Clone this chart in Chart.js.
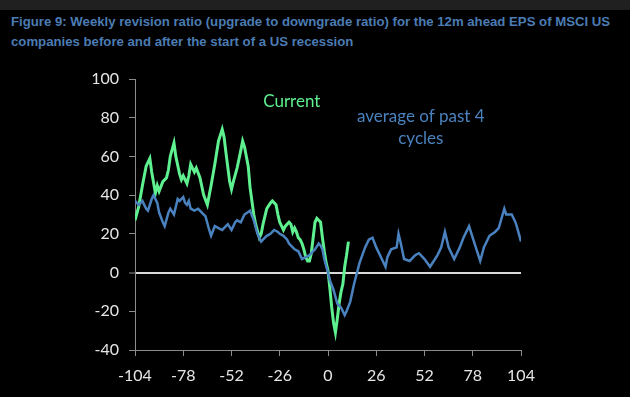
<!DOCTYPE html>
<html>
<head>
<meta charset="utf-8">
<script src="https://cdn.jsdelivr.net/npm/chart.js@4/dist/chart.umd.min.js"></script>
<style>
  html, body { margin: 0; padding: 0; background: #000; }
  body { width: 630px; height: 397px; position: relative; overflow: hidden; }
  .topbar { position: absolute; left: 0; top: 0; width: 630px; height: 10px; background: #202020; }
  .title {
    position: absolute; left: 11px; top: 12px;
    font: bold 13.2px "Liberation Sans", Arial, sans-serif;
    line-height: 20px; color: #4b7cb3; white-space: nowrap;
  }
  #wrap { position: absolute; left: 0; top: 0; width: 630px; height: 397px; }
</style>
</head>
<body>
<div class="topbar"></div>
<div class="title">Figure 9: Weekly revision ratio (upgrade to downgrade ratio) for the 12m ahead EPS of MSCI US<br>companies before and after the start of a US recession</div>
<div id="wrap"><canvas id="chart" width="630" height="397"></canvas></div>
<script>
// weeks relative to the start of a US recession
const currentWeeks = [-104, -102, -100, -98, -96, -95, -93, -92, -91, -89, -87, -86, -85, -83, -82, -80, -79, -78, -76, -75, -74, -73, -72, -71, -69, -67, -65, -64, -63, -61, -59, -57, -56, -55, -53, -52, -51, -49, -47, -46, -45, -43, -42, -40, -39, -37, -36, -35, -33, -31, -30, -28, -27, -26, -25, -24, -23, -21, -20, -19, -18, -17, -16, -15, -14, -13, -12, -11, -10, -9, -8, -7, -6, -5, -4, -3, -2, -1, 0, 1, 2, 3, 4, 5, 6, 7, 8, 9, 10, 11];
const currentValues = [27, 34, 45, 55, 59, 52, 41, 45, 42, 47, 49, 53, 60, 67, 60, 51, 48, 50, 46, 50, 56, 54, 52, 54, 49, 40, 35, 40, 45, 56, 68, 74, 70, 62, 47, 43, 47, 54, 63, 68, 65, 55, 44, 30, 25, 18, 20, 25, 33, 36, 37, 35, 30, 26, 24, 22, 24, 26, 25, 21, 23, 21, 18, 17, 15, 12, 8, 6, 6, 10, 18, 26, 28, 27, 26, 18, 11, 5, 1, -8, -18, -26, -31, -24, -16, -10, -6, 3, 9, 16];

const averageWeeks = [-104, -102, -100, -98, -97, -95, -94, -92, -91, -89, -88, -86, -85, -83, -81, -80, -78, -77, -76, -75, -74, -72, -70, -68, -66, -64, -63, -61, -59, -57, -55, -54, -52, -50, -49, -47, -45, -42, -40, -38, -36, -34, -33, -31, -30, -29, -27, -26, -24, -22, -21, -19, -18, -16, -15, -14, -12, -10, -7, -5, -4, -3, -2, 0, 1, 3, 5, 7, 9, 10, 12, 14, 17, 20, 22, 24, 26, 29, 31, 32, 34, 37, 38, 39, 41, 44, 47, 49, 52, 55, 57, 59, 61, 63, 65, 68, 71, 73, 76, 79, 82, 84, 87, 90, 92, 95, 96, 99, 101, 102, 104];
const averageValues = [37, 35, 37, 33, 32, 38, 40, 36, 31, 26, 24, 31, 33, 30, 38, 37, 39, 36, 35, 37, 33, 32, 33, 31, 29, 22, 19, 24, 23, 22, 24, 25, 22, 26, 27, 26, 30, 32, 27, 20, 16, 18, 19, 20, 21, 22, 21, 20, 19, 17, 15, 13, 12, 11, 9, 7, 8, 9, 12, 15, 14, 12, 7, 0, -4, -9, -16, -18, -22, -20, -15, -6, 5, 13, 17, 18, 13, 7, 3, 8, 12, 13, 20, 16, 7, 6, 9, 10, 7, 3, 6, 9, 13, 21, 13, 7, 13, 18, 24, 15, 6, 13, 19, 21, 23, 33, 30, 30, 26, 23, 16];

const xTicks = [-104, -78, -52, -26, 0, 26, 52, 78, 104];
const yTicks = [-40, -20, 0, 20, 40, 60, 80, 100];

const labels = [
  { text: "Current", x: -19.5, y: 88.5, color: "#5ff08f" },
  { text: "average of past 4", x: 50, y: 80.5, color: "#4a82bf" },
  { text: "cycles", x: 50, y: 69.5, color: "#4a82bf" }
];

const toPoints = (weeks, values) => weeks.map((w, i) => ({ x: w, y: values[i] }));

const textFont = { family: "Lato, 'Open Sans', sans-serif", size: 16 };

// writes the two line labels inside the plot
const seriesLabels = {
  id: "seriesLabels",
  afterDatasetsDraw(chart) {
    const { ctx, scales } = chart;
    ctx.save();
    ctx.font = "17px Lato, 'Open Sans', sans-serif";
    ctx.textAlign = "center";
    ctx.textBaseline = "middle";
    labels.forEach(l => {
      ctx.fillStyle = l.color;
      ctx.fillText(l.text, scales.x.getPixelForValue(l.x), scales.y.getPixelForValue(l.y));
    });
    ctx.restore();
  }
};

new Chart(document.getElementById("chart"), {
  type: "line",
  data: {
    datasets: [
      {
        label: "average of past 4 cycles",
        data: toPoints(averageWeeks, averageValues),
        borderColor: "#4a82bf",
        borderWidth: 2.5,
        pointRadius: 0,
        tension: 0
      },
      {
        label: "Current",
        data: toPoints(currentWeeks, currentValues),
        borderColor: "#5ff08f",
        borderWidth: 3,
        pointRadius: 0,
        tension: 0
      }
    ]
  },
  options: {
    responsive: false,
    animation: false,
    layout: { padding: { left: 0, right: 109, top: 79, bottom: 0 } },
    plugins: {
      legend: { display: false },
      tooltip: { enabled: false }
    },
    scales: {
      x: {
        type: "linear",
        min: -104,
        max: 104,
        afterBuildTicks: s => { s.ticks = xTicks.map(v => ({ value: v })); },
        afterFit: s => { s.height = 47; },
        ticks: { color: "#e6e6e6", font: textFont, padding: 10, maxRotation: 0 },
        grid: { drawOnChartArea: false, color: "#8c8c8c", tickLength: 6 },
        border: { color: "#8c8c8c", width: 1 }
      },
      y: {
        min: -40,
        max: 100,
        afterBuildTicks: s => { s.ticks = yTicks.map(v => ({ value: v })); },
        afterFit: s => { s.width = 135; },
        ticks: { color: "#e6e6e6", font: textFont, padding: 10 },
        grid: {
          drawOnChartArea: true,
          color: c => (c.tick && c.tick.value === 0 ? "#d9d9d9" : "rgba(0,0,0,0)"),
          lineWidth: c => (c.tick && c.tick.value === 0 ? 2 : 1),
          tickColor: "#8c8c8c",
          tickWidth: 1,
          tickLength: 6
        },
        border: { color: "#8c8c8c", width: 1 }
      }
    }
  },
  plugins: [seriesLabels]
});
</script>
</body>
</html>
